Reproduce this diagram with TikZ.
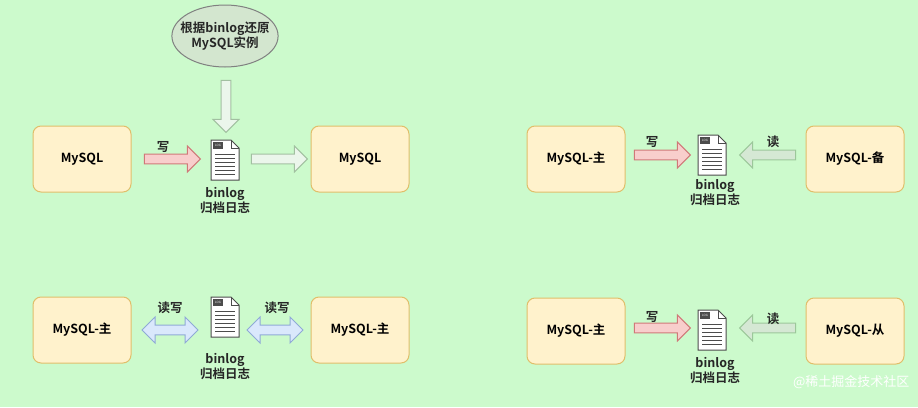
\documentclass[tikz,border=0pt]{standalone}
\usepackage{fontspec}
\setmainfont{Noto Sans CJK SC}[BoldFont={Noto Sans CJK SC Bold}]
\usetikzlibrary{shapes.arrows,shapes.geometric}
\definecolor{bg}{HTML}{CCFACC}
\definecolor{boxf}{HTML}{FFF2CC}\definecolor{boxd}{HTML}{E0BE6A}
\definecolor{redf}{HTML}{F8CECC}\definecolor{redd}{HTML}{D07878}
\definecolor{grnf}{HTML}{D5E8D4}\definecolor{grnd}{HTML}{9CC79A}
\definecolor{bluf}{HTML}{DAE8FC}\definecolor{blud}{HTML}{8FAAD6}
\definecolor{ellf}{HTML}{D3E6CF}
\tikzset{
 x=1pt,y=-1pt,
 dbbox/.style={draw=boxd,fill=boxf,rounded corners=8pt,minimum width=98pt,minimum height=66pt,line width=1pt,font=\bfseries\fontsize{12.5}{14}\selectfont},
 lbl/.style={font=\bfseries\fontsize{12.5}{15}\selectfont,align=center,text=black!85},
 barrow/.style={shape=single arrow,minimum height=56pt,minimum width=26pt,single arrow head extend=6pt,single arrow tip angle=90,inner sep=3pt,line width=1pt},
 darrow/.style={shape=double arrow,minimum height=56pt,minimum width=26pt,double arrow head extend=6pt,double arrow tip angle=90,inner sep=3pt,line width=1pt,draw=blud,fill=bluf},
 wr/.style={barrow,draw=redd,fill=redf},
 rd/.style={barrow,draw=grnd,fill=grnf},
 gr/.style={barrow,draw=grnd!70!gray,fill=grnf!80!gray!20,opacity=0.8},
 doc/.pic={
  \draw[line width=1pt,fill=white,draw=black!70] (-14,-20) -- (6,-20) -- (14,-12) -- (14,20) -- (-14,20) -- cycle;
  \draw[line width=0.8pt,draw=black!70] (6,-20) -- (6,-12) -- (14,-12);
  \fill[black!70] (-12,-18) rectangle (-2,-11);
  \node[text=white,font=\fontsize{3}{3}\selectfont,inner sep=0] at (-7,-14.5) {LOG};
  \foreach \yy in {-6,-2,...,14} \draw[black!70,line width=1pt] (-10,\yy) -- (10,\yy);
 }
}
\begin{document}
\begin{tikzpicture}
\fill[bg] (0,0) rectangle (918,407);
\useasboundingbox (0,0) rectangle (918,407);
% top-left
\node[dbbox] (a1) at (82,159) {MySQL};
\node[dbbox] (a2) at (360,159) {MySQL};
\pic at (225,160) {doc};
\node[lbl] (ab) at (225,201) {binlog\\归档日志};
\node[draw=black!50,fill=ellf,ellipse,minimum width=100pt,minimum height=62pt,line width=1pt,lbl,inner xsep=-7pt,inner ysep=0pt] (ae) at (225,36) {根据binlog还原\\MySQL实例};
\node[wr] (aw) at (170,159) {};
\node[lbl] at (163,147) {写};
\node[gr] (ag) at (277,159) {};
\node[gr,shape border rotate=270,minimum height=52pt] (av) at (226,104) {};
% top-right
\node[dbbox] (b1) at (576,159) {MySQL-主};
\node[dbbox] (b2) at (855,159) {MySQL-备};
\pic at (712,155) {doc};
\node[lbl] (bb) at (715,193) {binlog\\归档日志};
\node[wr] (bw) at (660,155) {};
\node[lbl] at (652,142) {写};
\node[rd,shape border rotate=180] (br) at (770,155) {};
\node[lbl] at (773,142) {读};
% bottom-left
\node[dbbox] (c1) at (82,330) {MySQL-主};
\node[dbbox] (c2) at (360,330) {MySQL-主};
\pic at (225,317) {doc};
\node[lbl] (cb) at (225,367) {binlog\\归档日志};
\node[darrow] (cl) at (170,330) {};
\node[darrow] (cr) at (275,330) {};
\node[lbl] at (170,308) {读写};
\node[lbl] at (277,308) {读写};
% bottom-right
\node[dbbox] (d1) at (576,331) {MySQL-主};
\node[dbbox] (d2) at (855,331) {MySQL-从};
\pic at (712,330) {doc};
\node[lbl] (db) at (715,371) {binlog\\归档日志};
\node[wr] (dw) at (660,328) {};
\node[lbl] at (652,317) {写};
\node[rd,shape border rotate=180] (dr) at (770,328) {};
\node[lbl] at (773,319) {读};
\node[font=\fontsize{13}{15}\selectfont,text=white,anchor=east] (wm) at (913,382) {@稀土掘金技术社区};
\end{tikzpicture}
\end{document}
